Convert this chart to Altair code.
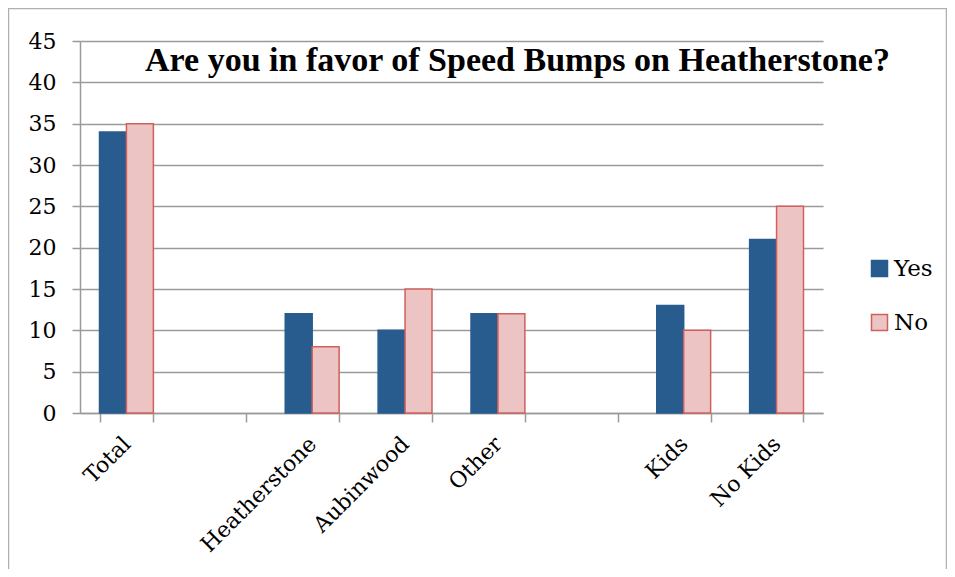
import altair as alt
import pandas as pd

categories = ["Total", " ", "Heatherstone", "Aubinwood", "Other", "  ", "Kids", "No Kids"]
yes_values = [34, None, 12, 10, 12, None, 13, 21]
no_values = [35, None, 8, 15, 12, None, 10, 25]
series = ["Yes", "No"]
fill_colors = ["#285C8F", "#ECC4C4"]
stroke_colors = ["#285C8F", "#D0605C"]
y_ticks = [0, 5, 10, 15, 20, 25, 30, 35, 40, 45]
title_text = "Are you in favor of Speed Bumps on Heatherstone?"

rows = []
for c, yv, nv in zip(categories, yes_values, no_values):
    if yv is not None:
        rows.append({"category": c, "series": "Yes", "value": yv})
    if nv is not None:
        rows.append({"category": c, "series": "No", "value": nv})
df = pd.DataFrame(rows)

W, H = 743, 372
GRID = "#9a9a9a"

frame = alt.Chart(pd.DataFrame({"k": [0]})).mark_rect(
    fill="transparent", stroke="#b0b0b0", strokeWidth=1.5
).encode(
    x=alt.value(-71.5), x2=alt.value(866.5), y=alt.value(-32.5), y2=alt.value(H + 200)
)

legend = alt.Legend(
    title=None, orient="none", legendX=788, legendY=216,
    symbolType="square", symbolSize=256, symbolStrokeWidth=1.5,
    labelFont="DejaVu Serif", labelFontSize=23, labelColor="black",
    labelOffset=3, rowPadding=30,
)

bars = alt.Chart(df).mark_bar(strokeWidth=1.5).encode(
    x=alt.X(
        "category:N", sort=categories,
        scale=alt.Scale(domain=categories, paddingInner=0.42, paddingOuter=0.21),
        axis=alt.Axis(
            title=None, labelAngle=-45, labelAlign="right", labelBaseline="middle",
            labelFont="DejaVu Serif", labelFontSize=22, labelColor="black",
            labelPadding=18, labelLimit=0, tickBand="extent", tickSize=9,
            tickColor=GRID, tickWidth=1.5, domainColor=GRID, domainWidth=1.5, grid=False,
        ),
    ),
    xOffset=alt.XOffset("series:N", sort=series, scale=alt.Scale(domain=series)),
    y=alt.Y(
        "value:Q", scale=alt.Scale(domain=[0, 45]),
        axis=alt.Axis(
            title=None, values=y_ticks, labelFont="DejaVu Serif", labelFontSize=22,
            labelColor="black", labelPadding=16, tickSize=8, tickColor=GRID, tickWidth=1.5,
            domainColor=GRID, domainWidth=1.5, gridColor=GRID, gridWidth=1.5,
        ),
    ),
    color=alt.Color("series:N", sort=series, scale=alt.Scale(domain=series, range=fill_colors), legend=legend),
    stroke=alt.Stroke("series:N", sort=series, scale=alt.Scale(domain=series, range=stroke_colors), legend=legend),
)

chart = alt.layer(frame, bars).properties(
    width=W, height=H,
    autosize=alt.AutoSizeParams(type="none"),
    padding={"left": 72, "top": 33, "right": 124, "bottom": 156},
    title=alt.TitleParams(
        title_text, font="Liberation Serif", fontSize=34, fontWeight="bold", color="black",
        anchor="middle", frame="group", orient="top", offset=0, dx=66, dy=97, baseline="alphabetic",
    ),
).configure_view(stroke="transparent")

chart.save("out.html", embed_options={"renderer": "svg", "actions": False})
